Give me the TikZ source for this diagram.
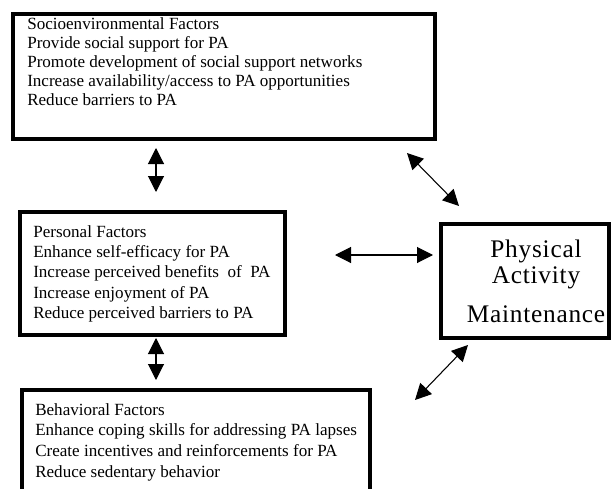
\documentclass[tikz,border=0pt]{standalone}
\usepackage{fontspec}
\setmainfont{Liberation Serif}
\usetikzlibrary{arrows.meta}
\tikzset{
  box/.style={draw=black, line width=3.4pt, rectangle, inner sep=0pt, outer sep=0pt, anchor=north west},
  txt/.style={anchor=north west, inner sep=0pt, align=left, font=\fontsize{12.8}{15}\selectfont},
  dbl/.style={line width=0.8pt, {Triangle[length=12pt,width=12pt]}-{Triangle[length=12pt,width=12pt]}}
}
\begin{document}
\begin{tikzpicture}[x=0.75pt,y=-0.75pt]
\clip (0,0) rectangle (611,489);
\fill[white] (0,0) rectangle (611,489);
% boxes
\node[box, minimum width=316.5pt, minimum height=93.75pt] (soc) at (13,14) {};
\node[box, minimum width=198.75pt, minimum height=92.25pt] (pers) at (20,212) {};
\node[box, minimum width=261pt, minimum height=100pt] (beh) at (22,390) {};
\node[box, minimum width=126pt, minimum height=85.5pt] (pam) at (441,224) {};
% texts
\node[txt, font=\fontsize{12.8}{14.25}\selectfont] (soctext) at (27,17.3) {Socioenvironmental Factors\\Provide social support for PA\\Promote development of social support networks\\Increase availability/access to PA opportunities\\Reduce barriers to PA};
\node[txt, font=\fontsize{12.8}{15.2}\selectfont] (perstext) at (33,225.3) {Personal Factors\\Enhance self-efficacy for PA\\Increase perceived benefits\ \ of\ \ PA\\Increase enjoyment of PA\\Reduce perceived barriers to PA};
\node[txt, font=\fontsize{12.8}{15.4}\selectfont] (behtext) at (35,403.3) {Behavioral Factors\\Enhance coping skills for addressing PA lapses\\Create incentives and reinforcements for PA\\Reduce sedentary behavior};
\node[anchor=north, inner sep=0pt, align=center, font=\fontsize{19}{19.5}\selectfont\addfontfeature{LetterSpace=3}] (pamtext) at (536,239.7) {Physical\\Activity\\[10pt]Maintenance};
% arrow ends
\coordinate (v1a) at (156,148);
\coordinate (v1b) at (156,192);
\coordinate (v2a) at (156,338);
\coordinate (v2b) at (156,380);
\coordinate (ha) at (335,255);
\coordinate (hb) at (433,255);
\coordinate (d1a) at (407,153);
\coordinate (d1b) at (459,206);
\coordinate (d2a) at (468,345);
\coordinate (d2b) at (415,400);
\draw[dbl] (v1a) -- (v1b);
\draw[dbl] (v2a) -- (v2b);
\draw[dbl] (ha) -- (hb);
\draw[dbl] (d1a) -- (d1b);
\draw[dbl] (d2a) -- (d2b);
\end{tikzpicture}
\end{document}
